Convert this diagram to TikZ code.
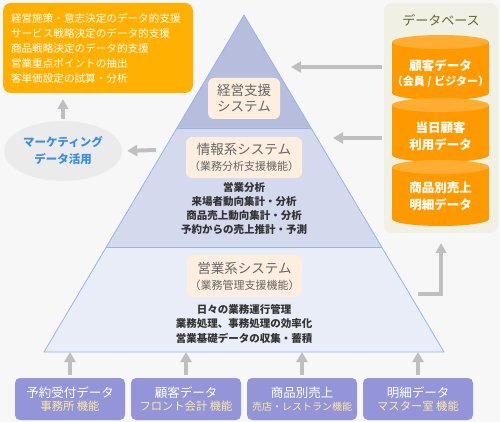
\documentclass[tikz,border=0pt]{standalone}
\usepackage{fontspec}
\setmainfont{Noto Sans CJK JP}
\usetikzlibrary{arrows.meta,calc,shapes.geometric}
\definecolor{bgc}{HTML}{F7F7F7}
\definecolor{bandA}{HTML}{B7BDDD}
\definecolor{bandB}{HTML}{D5D9EE}
\definecolor{bandC}{HTML}{E9EDF8}
\definecolor{edgec}{HTML}{99B4E8}
\definecolor{lblfill}{HTML}{FDEEDF}
\definecolor{lbltext}{HTML}{666666}
\definecolor{bodytext}{HTML}{333333}
\definecolor{goalc}{HTML}{FFB000}
\definecolor{ellc}{HTML}{EBEBEB}
\definecolor{mktc}{HTML}{3A8EE6}
\definecolor{arrc}{HTML}{BFBFBF}
\definecolor{dbbg}{HTML}{F0F0E4}
\definecolor{dbtitle}{HTML}{666633}
\definecolor{cylc}{HTML}{FF9900}
\definecolor{cyltop}{HTML}{FFAD33}
\definecolor{srcc}{HTML}{9494D9}
\definecolor{srcsub}{HTML}{FFEAA0}
\tikzset{
  arr/.style={draw=arrc, line width=4pt, -{Triangle[width=11pt,length=10pt]}},
  lblbox/.style={fill=lblfill, rounded corners=6pt, text=lbltext, align=center, inner sep=0pt,
    font=\fontsize{13.5}{20}\selectfont},
  body/.style={text=bodytext, align=center, font=\bfseries\fontsize{10.5}{14}\selectfont},
  srcbox/.style={fill=srcc, rounded corners=5pt, minimum width=110pt, minimum height=42pt, inner sep=0pt, align=center, text=white},
  cyltext/.style={text=white, align=center, font=\bfseries\fontsize{12.5}{17}\selectfont},
}
\newcommand{\cyl}[2]{% top, bottom
  \fill[cylc] (440.5,#2-7) ellipse (48.5pt and 7pt);
  \fill[cylc] (392,#1+7) rectangle (489,#2-7);
  \fill[cyltop] (440.5,#1+7) ellipse (48.5pt and 7pt);
}
\begin{document}
\begin{tikzpicture}[x=1pt,y=-1pt]
\fill[bgc] (0,0) rectangle (500,422);
\useasboundingbox (0,0) rectangle (500,422);
% pyramid
\coordinate (apex) at (244,15);
\coordinate (bl) at (44,352);
\coordinate (br) at (444,352);
\coordinate (l1) at ($(apex)!0.3353!(bl)$);
\coordinate (r1) at ($(apex)!0.3353!(br)$);
\coordinate (l2) at ($(apex)!0.6884!(bl)$);
\coordinate (r2) at ($(apex)!0.6884!(br)$);
\fill[bandA] (apex) -- (l1) -- (r1) -- cycle;
\fill[bandB] (l1) -- (l2) -- (r2) -- (r1) -- cycle;
\fill[bandC] (l2) -- (bl) -- (br) -- (r2) -- cycle;
\draw[edgec, line width=0.8pt] (apex) -- (bl) -- (br) -- cycle;
\draw[edgec, line width=0.8pt] (l1) -- (r1) (l2) -- (r2);
% pyramid labels
\node[lblbox, minimum width=72pt, minimum height=41pt] (top) at (244,98.5) {経営支援\\[-4pt]システム};
\node[lblbox, minimum width=116pt, minimum height=41pt] (mid) at (244,157.5)
  {情報系システム\\[-4pt]{\fontsize{11}{14}\selectfont （業務分析支援機能）}};
\node[body] (midbody) at (244,208.5) {営業分析\\来場者動向集計・分析\\商品売上動向集計・分析\\予約からの売上推計・予測};
\node[lblbox, minimum width=115pt, minimum height=42pt] (bot) at (244.5,276)
  {営業系システム\\[-4pt]{\fontsize{11}{14}\selectfont （業務管理支援機能）}};
\node[body, font=\bfseries\fontsize{10.5}{14.5}\selectfont] (botbody) at (244,323.5) {日々の業務運行管理\\業務処理、事務処理の効率化\\営業基礎データの収集・蓄積};
% goal box
\node[fill=goalc, rounded corners=8pt, minimum width=190pt, minimum height=90pt, text width=174pt,
  align=left, text=white, inner sep=0pt, font=\fontsize{10.6}{15}\selectfont] (goal) at (98,48)
  {経営施策・意志決定のデータ的支援\\サービス戦略決定のデータ的支援\\商品戦略決定のデータ的支援\\営業重点ポイントの抽出\\客単価設定の試算・分析};
% marketing ellipse
\node[ellipse, fill=ellc, minimum width=118pt, minimum height=60pt, inner sep=0pt, text=mktc, align=center,
  font=\bfseries\fontsize{11.5}{17}\selectfont] (mkt) at (63,151) {マーケティング\\データ活用};
% database
\node[fill=dbbg, rounded corners=8pt, minimum width=114pt, minimum height=230pt, inner sep=0pt] (db) at (441,118) {};
\node[text=dbtitle, font=\fontsize{13}{16}\selectfont] (dbt) at (441,20) {データベース};
\cyl{35}{100}
\cyl{98}{162}
\cyl{160}{226}
\node[cyltext] (c1) at (440.5,74) {顧客データ\\[-2pt]{\fontsize{11}{14}\selectfont （会員 / ビジター）}};
\node[cyltext] (c2) at (440.5,136.5) {当日顧客\\利用データ};
\node[cyltext] (c3) at (440.5,196.5) {商品別売上\\明細データ};
% source boxes
\node[srcbox] (s1) at (70,399) {{\fontsize{12.5}{15}\selectfont 予約受付データ}\\[1pt]{\color{srcsub}\fontsize{11.3}{13}\selectfont 事務所 機能}};
\node[srcbox] (s2) at (186,399) {{\fontsize{12.5}{15}\selectfont 顧客データ}\\[1pt]{\color{srcsub}\fontsize{11.3}{13}\selectfont フロント会計 機能}};
\node[srcbox] (s3) at (302,399) {{\fontsize{12.5}{15}\selectfont 商品別売上}\\[1pt]{\color{srcsub}\fontsize{10}{13}\selectfont 売店・レストラン機能}};
\node[srcbox] (s4) at (418,399) {{\fontsize{12.5}{15}\selectfont 明細データ}\\[1pt]{\color{srcsub}\fontsize{11.3}{13}\selectfont マスター室 機能}};
% arrows
\foreach \s in {s1,s2,s3,s4}{
  \draw[arr, shorten <=3pt] (\s.north) -- (\s.north |- br) ;
}
\coordinate (tl) at (156,150);
\draw[arr, shorten >=5pt] (tl) -- (mkt.east);
\draw[arr, shorten <=2pt, shorten >=6pt] (mkt.north) -- (mkt.north |- goal.south);
\coordinate (dbw1) at (382,67);
\coordinate (tr1) at (291,67);
\draw[arr] (dbw1) -- (tr1);
\coordinate (dbw2) at (382,138);
\coordinate (tr2) at (333,138);
\draw[arr] (dbw2) -- (tr2);
\coordinate (te) at (418,294);
\draw[arr, shorten >=10pt] (te) -| (db.south);
\end{tikzpicture}
\end{document}
